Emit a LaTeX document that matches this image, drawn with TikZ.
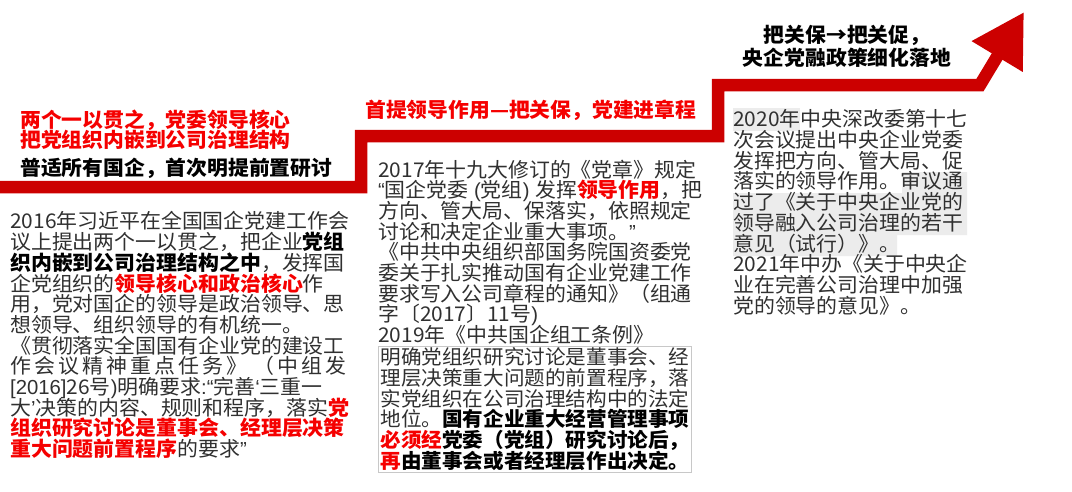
\documentclass[tikz,border=0pt]{standalone}
\usepackage{fontspec}
\setmainfont{Noto Sans CJK SC}[FakeStretch=1.03]
\newfontfamily\latinfont{Liberation Sans}
\usepackage{xcolor}
\usepackage{tikz}
\usetikzlibrary{arrows.meta}
\definecolor{stairred}{HTML}{CC0000}
\definecolor{keyred}{HTML}{F50000}
\definecolor{bodytext}{HTML}{303030}
\definecolor{boxline}{HTML}{C8C8C8}
\definecolor{markfill}{HTML}{ECECEC}
\newcommand{\tightlines}{\lineskiplimit -6pt\relax}
\tikzset{
  stair/.style={
    draw=stairred,
    line width=12.5pt,
    line join=miter,
    -{Triangle[length=52pt,width=56pt]}
  },
  headred/.style={
    font=\fontsize{20.2pt}{20pt}\selectfont\bfseries\tightlines,
    text=keyred,
    align=left,
    inner sep=0pt
  },
  headblack/.style={
    font=\fontsize{20.2pt}{23pt}\selectfont\bfseries,
    text=black,
    align=center,
    inner sep=0pt
  },
  bodyblock/.style={
    font=\fontsize{20.3pt}{20.7pt}\selectfont\tightlines,
    text=bodytext,
    align=left,
    anchor=north west,
    inner sep=0pt
  },
  framed/.style={draw=boxline, line width=0.8pt, inner xsep=2pt, inner ysep=1.5pt}
}
\newcommand{\kr}[1]{\textcolor{keyred}{\textbf{#1}}}
\newcommand{\kb}[1]{\textcolor{black}{\textbf{#1}}}
\newcommand{\wq}[1]{{\latinfont #1}}

\begin{document}
\begin{tikzpicture}[x=1pt,y=-1pt]
\useasboundingbox (0,0) rectangle (1072,491);
\fill[white] (0,0) rectangle (1072,491);

% rising staircase
\coordinate (s0) at (0,187);
\coordinate (s1) at (361,136);
\coordinate (s2) at (718,85);
\coordinate (bend) at (980,85);
\coordinate (tip) at (1024,12);
\draw[stair] (s0) -| (s1) -| (s2) -- (bend) -- (tip);

% shading behind the 2020 text
\fill[markfill] (733,108) rectangle (800,131);
\fill[markfill] (902,172) -- (967,172) -- (967,235) -- (897,235) -- (897,256)
  -- (733,256) -- (733,193) -- (902,193) -- cycle;

\node[headred, anchor=north west] (lead2016) at (20,110) {两个一以贯之，党委领导核心\\把党组织内嵌到公司治理结构};
\node[headblack, anchor=west] (scope2016) at (20,168) {普适所有国企，首次明提前置研讨};
\node[headred, anchor=west] (lead2017) at (365,110) {首提领导作用—把关保，党建进章程};
\node[headblack] (lead2020) at (847,46.5) {把关保→把关促，\\央企党融政策细化落地};

\node[bodyblock] (text2016) at (10,211.5) {2016年习近平在全国国企党建工作会\\
议上提出两个一以贯之，把企业\kb{党组}\\
\kb{织内嵌到公司治理结构之中}，发挥国\\
企党组织的\kr{领导核心和政治核心}作\\
用，党对国企的领导是政治领导、思\\
想领导、组织领导的有机统一。\\
《贯彻落实全国国有企业党的建设工\\
\makebox[336pt][s]{作\hfill 会\hfill 议\hfill 精\hfill 神\hfill 重\hfill 点\hfill 任\hfill 务\hfill 》\hfill\hfill （\hfill 中\hfill 组\hfill 发}\\
\wq{[2016]}26号\wq{)}明确要求\wq{:“}完善\wq{‘}三重一\\
大\wq{’}决策的内容、规则和程序，落实\kr{党}\\
\kr{组织研究讨论是董事会、经理层决策}\\
\kr{重大问题前置程序}的要求\wq{”}};

\node[bodyblock] (text2017) at (378,159.5) {2017年十九大修订的《党章》规定\\
\wq{“}国企党委\wq{ (}党组\wq{) }发挥\kr{领导作用}，把\\
方向、管大局、保落实，依照规定\\
讨论和决定企业重大事项。\wq{”}\\
《中共中央组织部国务院国资委党\\
委关于扎实推动国有企业党建工作\\
要求写入公司章程的通知》（组通\\
字〔2017〕11号\wq{)}\\
2019年《中共国企组工条例》};

\node[bodyblock, framed, font=\fontsize{20pt}{20.7pt}\selectfont\tightlines] (text2019) at (378,346) {明确党组织研究讨论是董事会、经\\
理层决策重大问题的前置程序，落\\
实党组织在公司治理结构中的法定\\
地位。\kb{国有企业重大经营管理事项}\\
\kr{必须经}\kb{党委（党组）研究讨论后，}\\
\kr{再}\kb{由董事会或者经理层作出决定。}};

\node[bodyblock] (text2020) at (733,109.5) {2020年中央深改委第十七\\
次会议提出中央企业党委\\
发挥把方向、管大局、促\\
落实的领导作用。审议通\\
过了《关于中央企业党的\\
领导融入公司治理的若干\\
意见（试行）》。\\
2021年中办《关于中央企\\
业在完善公司治理中加强\\
党的领导的意见》。};

\end{tikzpicture}
\end{document}
